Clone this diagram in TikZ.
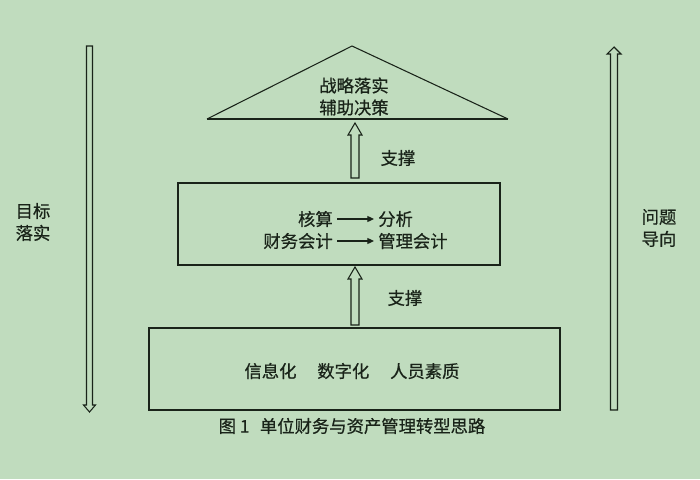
\documentclass[tikz,border=0pt]{standalone}
\usepackage{fontspec}
\setmainfont{Noto Sans CJK SC}[FakeBold=0.6]
\usetikzlibrary{arrows.meta}
\definecolor{bg}{RGB}{192,220,190}
\definecolor{ink}{RGB}{25,35,25}
\begin{document}
\begin{tikzpicture}[x=0.75pt,y=-0.75pt,
  txt/.style={text=ink,font=\fontsize{13}{16.5}\selectfont,inner sep=0pt,align=center},
  boxline/.style={draw=ink,line width=0.9pt},
  hollow/.style={draw=ink,line width=0.8pt,line join=miter},
  flow/.style={draw=ink,line width=0.9pt,-{Triangle[length=5pt,width=4.5pt]}}]
\fill[bg] (0,0) rectangle (700,479);
\useasboundingbox (0,0) rectangle (700,479);

% triangle
\coordinate (apex) at (352,46);
\coordinate (bl) at (207,119);
\coordinate (br) at (508,119);
\draw[ink,line width=0.8pt] (bl) -- (apex) -- (br);
\draw[ink,line width=1.5pt] (bl) -- (br);
\node[txt] (top) at (354,96.5) {战略落实\\辅助决策};

% middle box
\node[boxline,minimum width=322*0.75pt,minimum height=82*0.75pt,inner sep=0pt] (mid) at (339,224) {};
\node[txt,anchor=east] (hs) at (333,219) {核算};
\node[txt,anchor=west] (fx) at (378,219) {分析};
\node[txt,anchor=east] (cw) at (333,241) {财务会计};
\node[txt,anchor=west] (gl) at (378,241) {管理会计};
\draw[flow] ([xshift=3pt]hs.east) -- ([xshift=-3pt]fx.west);
\draw[flow] ([xshift=3pt]cw.east) -- ([xshift=-3pt]gl.west);

% bottom box
\node[boxline,minimum width=411*0.75pt,minimum height=82*0.75pt,inner sep=0pt] (bot) at (354.5,369) {};
\node[txt] (found) at (352,371) {信息化\hspace{1.2em}数字化\hspace{1.2em}人员素质};

% caption
\node[txt] (cap) at (352,426) {图 1\hspace{0.6em}单位财务与资产管理转型思路};

% support arrows
\coordinate (a1) at (355,123);
\draw[hollow] (a1) -- ++(7,12) -- ++(-3,0) -- ++(0,43) -- ++(-8,0) -- ++(0,-43) -- ++(-3,0) -- cycle;
\node[txt] (s1) at (398,158) {支撑};
\coordinate (a2) at (355,267);
\draw[hollow] (a2) -- ++(7,12) -- ++(-3,0) -- ++(0,46) -- ++(-8,0) -- ++(0,-46) -- ++(-3,0) -- cycle;
\node[txt] (s2) at (405,298) {支撑};

% side arrows
\coordinate (lt) at (89.5,412);
\draw[hollow] (lt) -- ++(6,-7) -- ++(-3,0) -- ++(0,-359) -- ++(-6,0) -- ++(0,359) -- ++(-3,0) -- cycle;
\node[txt] (ll) at (33,222) {目标\\落实};
\coordinate (rt) at (614,47);
\draw[hollow] (rt) -- ++(7,7) -- ++(-3.5,0) -- ++(0,356) -- ++(-7,0) -- ++(0,-356) -- ++(-3.5,0) -- cycle;
\node[txt] (rl) at (659,228) {问题\\导向};
\end{tikzpicture}
\end{document}
